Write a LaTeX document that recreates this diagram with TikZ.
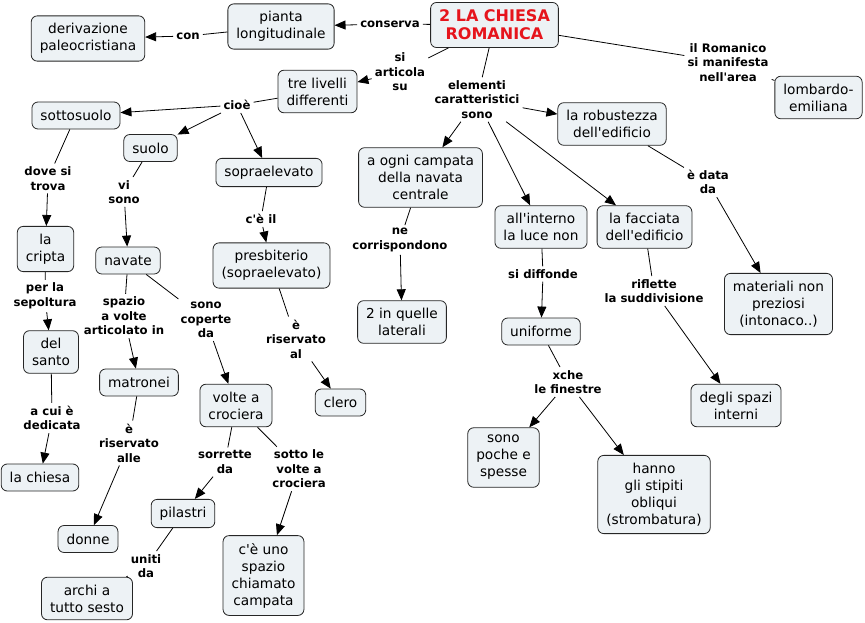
\documentclass[tikz,border=0pt]{standalone}
\usepackage{fontspec}
\setmainfont{DejaVu Sans}[Ligatures=TeXOff]
\usetikzlibrary{arrows.meta}
\definecolor{conceptfill}{RGB}{237,242,245}
\definecolor{titlered}{RGB}{230,20,28}

\begin{document}
\begin{tikzpicture}[x=1pt,y=-1pt,
  concept/.style={draw=black!85,fill=conceptfill,rounded corners=6pt,line width=0.8pt,
    inner xsep=8.5pt,inner ysep=7.5pt,minimum height=27pt,align=center,
    font=\fontsize{13.7}{17}\selectfont},
  linkword/.style={align=center,inner sep=3pt,font=\bfseries\fontsize{11.7}{14.5}\selectfont},
  link/.style={line width=0.8pt},
  arrowlink/.style={line width=0.8pt,-{Triangle[length=11pt,width=9pt]}}]
\useasboundingbox (0,0) rectangle (865,623);

% Concepts
\node[concept,text=titlered,font=\bfseries\fontsize{16}{18}\selectfont] (title) at (494.5,25) {2 LA CHIESA\\ROMANICA};
\node[concept] (pianta) at (281,26.5) {pianta\\longitudinale};
\node[concept] (deriv) at (88,38.5) {derivazione\\paleocristiana};
\node[concept] (livelli) at (317.5,91.5) {tre livelli\\differenti};
\node[concept] (sottosuolo) at (76,115.5) {sottosuolo};
\node[concept] (suolo) at (150.5,148) {suolo};
\node[concept] (sopra) at (269,172.5) {sopraelevato};
\node[concept] (cripta) at (45.5,249) {la\\cripta};
\node[concept] (navate) at (128,260.5) {navate};
\node[concept] (presb) at (271.5,265.5) {presbiterio\\(sopraelevato)};
\node[concept] (santo) at (51,352) {del\\santo};
\node[concept] (matronei) at (139,382.5) {matronei};
\node[concept] (volte) at (236,405.5) {volte a\\crociera};
\node[concept] (clero) at (340.5,402.5) {clero};
\node[concept] (chiesa) at (40,477.5) {la chiesa};
\node[concept] (donne) at (88,539) {donne};
\node[concept] (pilastri) at (183,513.5) {pilastri};
\node[concept] (archi) at (87,598.5) {archi a\\tutto sesto};
\node[concept] (campata) at (263.5,575.5) {c'è uno\\spazio\\chiamato\\campata};
\node[concept] (ogni) at (420.5,177.5) {a ogni campata\\della navata\\centrale};
\node[concept] (quelle) at (402,322) {2 in quelle\\laterali};
\node[concept] (interno) at (541,227) {all'interno\\la luce non};
\node[concept] (facciata) at (644.5,227) {la facciata\\dell'edificio};
\node[concept] (uniforme) at (541,331.5) {uniforme};
\node[concept] (robust) at (612,124) {la robustezza\\dell'edificio};
\node[concept] (lombardo) at (818.5,97.5) {lombardo-\\emiliana};
\node[concept] (materiali) at (778.5,304) {materiali non\\preziosi\\(intonaco..)};
\node[concept] (spazi) at (736,405.5) {degli spazi\\interni};
\node[concept] (poche) at (503.5,457.5) {sono\\poche e\\spesse};
\node[concept] (stipiti) at (654,494.5) {hanno\\gli stipiti\\obliqui\\(strombatura)};

% Linking words
\node[linkword] (conserva) at (390,24) {conserva};
\node[linkword] (con) at (188,36) {con};
\node[linkword] (articola) at (400,72) {si\\articola\\su};
\node[linkword] (elementi) at (477,99.5) {elementi\\caratteristici\\sono};
\node[linkword] (romanico) at (728,62.5) {il Romanico\\si manifesta\\nell'area};
\node[linkword] (cioe) at (237,105) {cioè};
\node[linkword] (dove) at (48,178.5) {dove si\\trova};
\node[linkword] (visono) at (124,192) {vi\\sono};
\node[linkword] (ceil) at (261,219) {c'è il};
\node[linkword] (sepoltura) at (45,296) {per la\\sepoltura};
\node[linkword] (spazio) at (124,316) {spazio\\a volte\\articolato in};
\node[linkword] (coperte) at (206,320) {sono\\coperte\\da};
\node[linkword] (riservatoal) at (296,339) {è\\riservato\\al};
\node[linkword] (dedicata) at (52,418) {a cui è\\dedicata};
\node[linkword] (riservatoalle) at (129,443) {è\\riservato\\alle};
\node[linkword] (sorrette) at (225,462) {sorrette\\da};
\node[linkword] (sotto) at (299,469) {sotto le\\volte a\\crociera};
\node[linkword] (uniti) at (146,566) {uniti\\da};
\node[linkword] (corrisp) at (400,240) {ne\\corrispondono};
\node[linkword] (diffonde) at (543,274) {si diffonde};
\node[linkword] (riflette) at (654,291) {riflette\\la suddivisione};
\node[linkword] (data) at (708,182) {è data\\da};
\node[linkword] (xche) at (568,382) {xche\\le finestre};

% Top of the map
\draw[link] (title) -- (conserva);
\draw[arrowlink] (conserva) -- (pianta);
\draw[link] (pianta) -- (con);
\draw[arrowlink] (con) -- (deriv);
\draw[link] (title) -- (articola);
\draw[arrowlink] (articola) -- (livelli);
\draw[link] (title) -- (romanico);
\draw[link] (romanico) -- (lombardo);

% Three levels
\draw[link] (livelli) -- (cioe);
\draw[arrowlink] (cioe) -- (sottosuolo);
\draw[arrowlink] (cioe) -- (suolo);
\draw[arrowlink] (cioe) -- (sopra);
\draw[link] (sottosuolo) -- (dove);
\draw[arrowlink] (dove) -- (cripta);
\draw[link] (cripta) -- (sepoltura);
\draw[arrowlink] (sepoltura) -- (santo);
\draw[link] (santo) -- (dedicata);
\draw[arrowlink] (dedicata) -- (chiesa);
\draw[link] (suolo) -- (visono);
\draw[arrowlink] (visono) -- (navate);
\draw[link] (navate) -- (spazio);
\draw[arrowlink] (spazio) -- (matronei);
\draw[link] (navate) -- (coperte);
\draw[arrowlink] (coperte) -- (volte);
\draw[link] (matronei) -- (riservatoalle);
\draw[arrowlink] (riservatoalle) -- (donne);
\draw[link] (volte) -- (sorrette);
\draw[arrowlink] (sorrette) -- (pilastri);
\draw[link] (volte) -- (sotto);
\draw[arrowlink] (sotto) -- (campata);
\draw[link] (pilastri) -- (uniti);
\draw[link] (uniti) -- (archi);
\draw[link] (sopra) -- (ceil);
\draw[arrowlink] (ceil) -- (presb);
\draw[link] (presb) -- (riservatoal);
\draw[arrowlink] (riservatoal) -- (clero);

% Characteristic elements
\draw[link] (title) -- (elementi);
\draw[arrowlink] (elementi) -- (robust);
\draw[arrowlink] (elementi) -- (ogni);
\draw[arrowlink] (elementi) -- (interno);
\draw[arrowlink] (elementi) -- (facciata);
\draw[link] (ogni) -- (corrisp);
\draw[arrowlink] (corrisp) -- (quelle);
\draw[link] (interno) -- (diffonde);
\draw[arrowlink] (diffonde) -- (uniforme);
\draw[link] (uniforme) -- (xche);
\draw[arrowlink] (xche) -- (poche);
\draw[arrowlink] (xche) -- (stipiti);
\draw[link] (facciata) -- (riflette);
\draw[arrowlink] (riflette) -- (spazi);
\draw[link] (robust) -- (data);
\draw[arrowlink] (data) -- (materiali);

\end{tikzpicture}
\end{document}
